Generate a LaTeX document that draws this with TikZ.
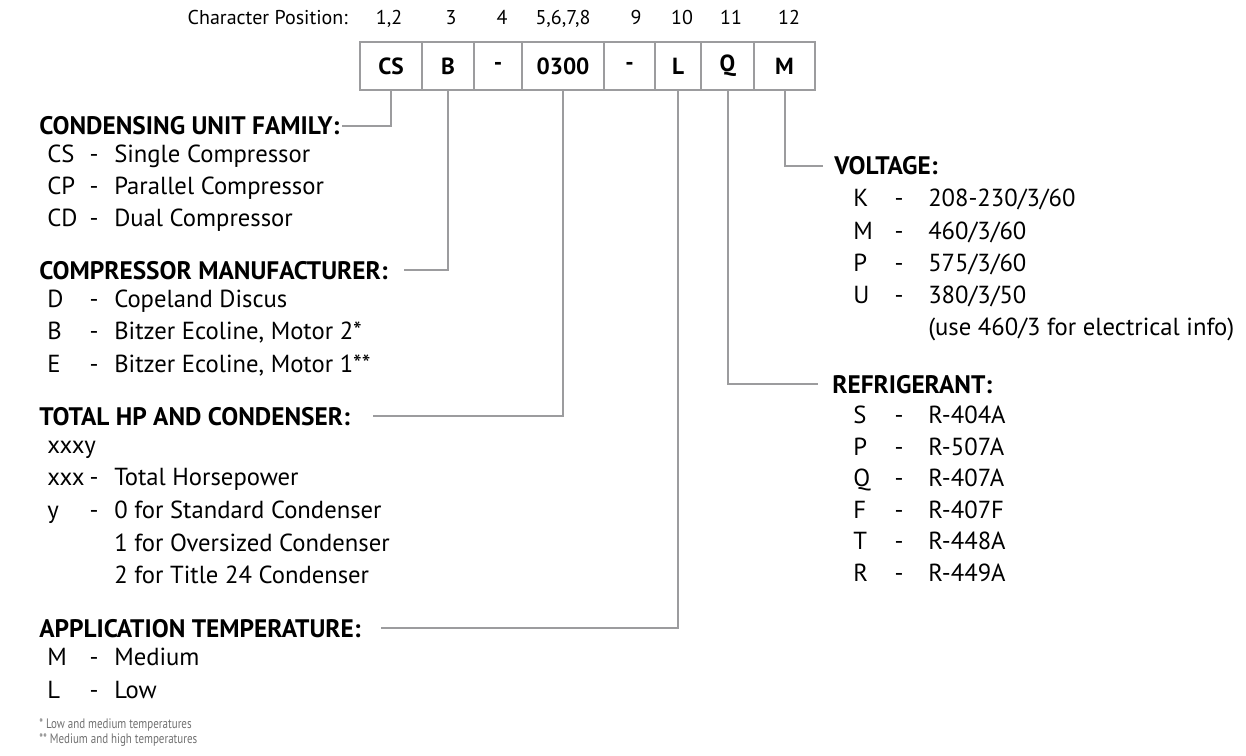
\documentclass[tikz,border=0pt]{standalone}
\usepackage{fontspec}
\setmainfont{PT Sans}
\newfontfamily\condfont[FakeStretch=0.8]{PT Sans}
\definecolor{linegray}{HTML}{9C9C9E}
\definecolor{notegray}{HTML}{707070}
\newcommand\lentry[4]{%
  \node[code] (#1c) at (47,#2) {#3};
  \node[dsh] (#1d) at (94,#2) {-};
  \node[desc] (#1t) at (114,#2) {#4};}
\newcommand\rentry[4]{%
  \node[code] (#1c) at (853,#2) {#3};
  \node[dsh] (#1d) at (899,#2) {-};
  \node[desc] (#1t) at (928,#2) {#4};}
\begin{document}
\begin{tikzpicture}[x=0.75pt,y=-0.75pt,
  lead/.style={draw=linegray, line width=1.5pt},
  cell/.style={draw=linegray, line width=2pt, inner sep=0pt, outer sep=0pt,
     minimum height=36pt, font=\fontsize{17.5}{20}\selectfont\bfseries},
  poslab/.style={anchor=base, inner sep=0pt, font=\fontsize{15}{17}\selectfont},
  hdr/.style={anchor=base west, inner sep=0pt, font=\fontsize{19}{22}\selectfont\bfseries},
  code/.style={anchor=base west, inner sep=0pt, font=\fontsize{18.5}{21}\selectfont},
  dsh/.style={anchor=base, inner sep=0pt, font=\fontsize{18.5}{21}\selectfont},
  desc/.style={anchor=base west, inner sep=0pt, font=\fontsize{18.5}{21}\selectfont},
  note/.style={anchor=base west, inner sep=0pt, text=notegray, font=\condfont\fontsize{10.3}{12}\selectfont}]
\useasboundingbox (0,0) rectangle (1246,756);
% header row
\node[poslab, anchor=base east] (cp) at (348,25) {Character Position:};
\node[poslab] (p1) at (389,25) {1,2};
\node[poslab] (p2) at (451,25) {3};
\node[poslab] (p3) at (502,25) {4};
\node[poslab] (p4) at (563,25) {5,6,7,8};
\node[poslab] (p5) at (636,25) {9};
\node[poslab] (p6) at (682,25) {10};
\node[poslab] (p7) at (731,25) {11};
\node[poslab] (p8) at (789,25) {12};
% code boxes (y 42..90)
\node[cell, minimum width=46.5pt]  (c1) at (391,66) {CS};
\node[cell, minimum width=39pt]    (c2) at (448,66) {B};
\node[cell, minimum width=36pt]    (c3) at (498,66) {-};
\node[cell, minimum width=61.5pt]  (c4) at (563,66) {0300};
\node[cell, minimum width=38.25pt] (c5) at (629.5,66) {-};
\node[cell, minimum width=34.5pt]  (c6) at (678,66) {L};
\node[cell, minimum width=39.75pt] (c7) at (727.5,66) {Q};
\node[cell, minimum width=45.75pt] (c8) at (784.5,66) {M};
% left sections
\node[hdr] (h1) at (39,135) {CONDENSING UNIT FAMILY:};
\lentry{a1}{162.5}{CS}{Single Compressor}
\lentry{a2}{194.5}{CP}{Parallel Compressor}
\lentry{a3}{226.5}{CD}{Dual Compressor}
\node[hdr] (h2) at (39,279) {COMPRESSOR MANUFACTURER:};
\lentry{b1}{307.5}{D}{Copeland Discus}
\lentry{b2}{339.5}{B}{Bitzer Ecoline, Motor 2*}
\lentry{b3}{372.5}{E}{Bitzer Ecoline, Motor 1**}
\node[hdr] (h3) at (39,425) {TOTAL HP AND CONDENSER:};
\node[code] (d0) at (47,453.5) {xxxy};
\lentry{d1}{485.5}{xxx}{Total Horsepower}
\lentry{d2}{518.5}{y}{0 for Standard Condenser}
\node[desc] (d3) at (114,551.5) {1 for Oversized Condenser};
\node[desc] (d4) at (114,583.5) {2 for Title 24 Condenser};
\node[hdr] (h4) at (39,637) {APPLICATION TEMPERATURE:};
\lentry{f1}{665.5}{M}{Medium}
\lentry{f2}{698.5}{L}{Low}
\node[note] (n1) at (39,728) {* Low and medium temperatures};
\node[note] (n2) at (39,743) {** Medium and high temperatures};
% right sections
\node[hdr] (h5) at (834,175) {VOLTAGE:};
\rentry{v1}{206.5}{K}{208-230/3/60}
\rentry{v2}{239.5}{M}{460/3/60}
\rentry{v3}{271.5}{P}{575/3/60}
\rentry{v4}{303.5}{U}{380/3/50}
\node[desc] (v5) at (928,335.5) {(use 460/3 for electrical info)};
\node[hdr] (h6) at (832,393) {REFRIGERANT:};
\rentry{r1}{423.5}{S}{R-404A}
\rentry{r2}{455.5}{P}{R-507A}
\rentry{r3}{486.5}{Q}{R-407A}
\rentry{r4}{518.5}{F}{R-407F}
\rentry{r5}{549.5}{T}{R-448A}
\rentry{r6}{581.5}{R}{R-449A}
% leader ends
\coordinate (e1) at (342,126);
\coordinate (e2) at (404,270);
\coordinate (e3) at (373,416);
\coordinate (e4) at (381,628);
\coordinate (e5) at (823,166);
\coordinate (e6) at (818,384);
\draw[lead] (c1.south) |- (e1);
\draw[lead] (c2.south) |- (e2);
\draw[lead] (c4.south) |- (e3);
\draw[lead] (c6.south) |- (e4);
\draw[lead] (c8.south) |- (e5);
\draw[lead] (c7.south) |- (e6);
\end{tikzpicture}
\end{document}
